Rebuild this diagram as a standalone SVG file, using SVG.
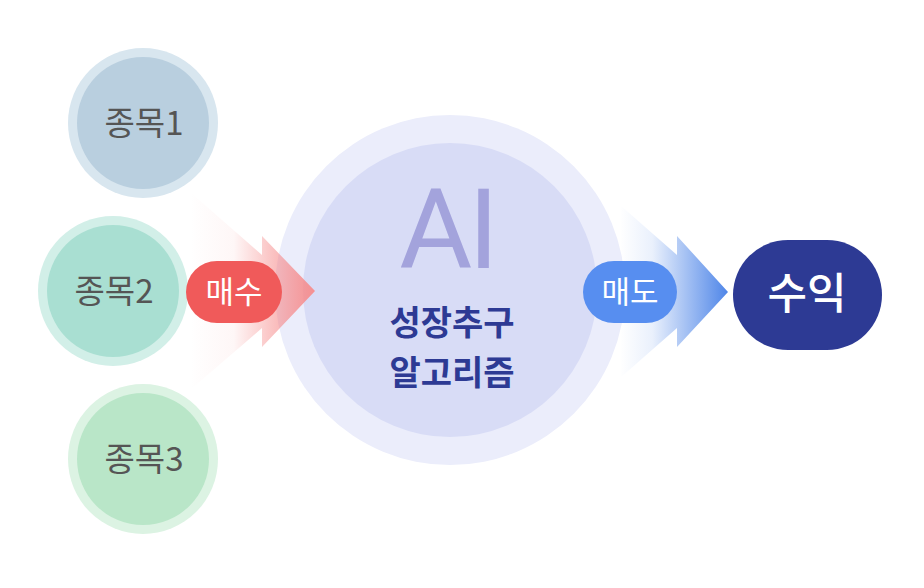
<svg xmlns="http://www.w3.org/2000/svg" width="924" height="588" viewBox="0 0 924 588">
  <defs>
    <linearGradient id="gradBuy" x1="190" y1="0" x2="315" y2="0" gradientUnits="userSpaceOnUse">
      <stop offset="0" stop-color="#f26a6a" stop-opacity="0"/>
      <stop offset="0.35" stop-color="#f47a7a" stop-opacity="0.06"/>
      <stop offset="1" stop-color="#f78c8c" stop-opacity="0.95"/>
    </linearGradient>
    <linearGradient id="gradSell" x1="620" y1="0" x2="728" y2="0" gradientUnits="userSpaceOnUse">
      <stop offset="0" stop-color="#4f86e8" stop-opacity="0"/>
      <stop offset="0.3" stop-color="#4f86e8" stop-opacity="0.12"/>
      <stop offset="1" stop-color="#4f86e8" stop-opacity="1"/>
    </linearGradient>
    <style>
      .stock { font-family: "Noto Sans CJK KR", "Noto Sans", sans-serif; font-size: 33px; fill: #555555; text-anchor: middle; }
      .pill { font-family: "Noto Sans CJK KR", "Noto Sans", sans-serif; font-size: 31px; fill: #ffffff; text-anchor: middle; }
      .algo { font-family: "Noto Sans CJK KR", "Noto Sans", sans-serif; font-size: 34px; font-weight: 700; fill: #2d3a94; text-anchor: middle; }
    </style>
  </defs>

  <!-- stock nodes -->
  <g id="stock1">
    <circle cx="143" cy="123" r="75" fill="#d8e6ef"/>
    <circle cx="143" cy="123" r="66" fill="#b9cfdf"/>
    <text class="stock" x="144" y="135">종목1</text>
  </g>
  <g id="stock2">
    <circle cx="113" cy="291" r="75" fill="#d2efe8"/>
    <circle cx="113" cy="291" r="66" fill="#a9dfd2"/>
    <text class="stock" x="114" y="303">종목2</text>
  </g>
  <g id="stock3">
    <circle cx="143" cy="459" r="75" fill="#dcf3e3"/>
    <circle cx="143" cy="459" r="66" fill="#b9e6c8"/>
    <text class="stock" x="144" y="471">종목3</text>
  </g>

  <!-- AI algorithm hub -->
  <g id="ai">
    <circle cx="450" cy="290" r="175" fill="#ebedfb"/>
    <circle cx="450" cy="290" r="147" fill="#d8dcf6"/>
    <text x="447" y="268" font-family="Roboto, Liberation Sans, sans-serif" font-size="112" font-weight="400" letter-spacing="-4" fill="#a3a3dc" text-anchor="middle">AI</text>
    <text class="algo" x="452" y="335">성장추구</text>
    <text class="algo" x="452" y="385">알고리즘</text>
  </g>

  <!-- flow arrows -->
  <g id="connectors">
    <path d="M190 192 L262 255 L262 236 L315 291 L262 347 L262 328 L190 390 Z" fill="url(#gradBuy)"/>
    <path d="M620 205 L677 255 L677 236 L728 292 L677 347 L677 328 L620 378 Z" fill="url(#gradSell)"/>
  </g>

  <g id="buy">
    <rect x="186" y="261" width="96" height="62" rx="31" fill="#f05a5a"/>
    <text class="pill" x="234" y="303">매수</text>
  </g>
  <g id="sell">
    <rect x="583" y="261" width="94" height="62" rx="31" fill="#578ef0"/>
    <text class="pill" x="630" y="303">매도</text>
  </g>
  <g id="profit">
    <rect x="733" y="240" width="149" height="110" rx="55" fill="#2d3a94"/>
    <text x="807" y="309" font-family="Noto Sans CJK KR, Noto Sans, sans-serif" font-size="43" font-weight="500" fill="#ffffff" text-anchor="middle">수익</text>
  </g>
</svg>
